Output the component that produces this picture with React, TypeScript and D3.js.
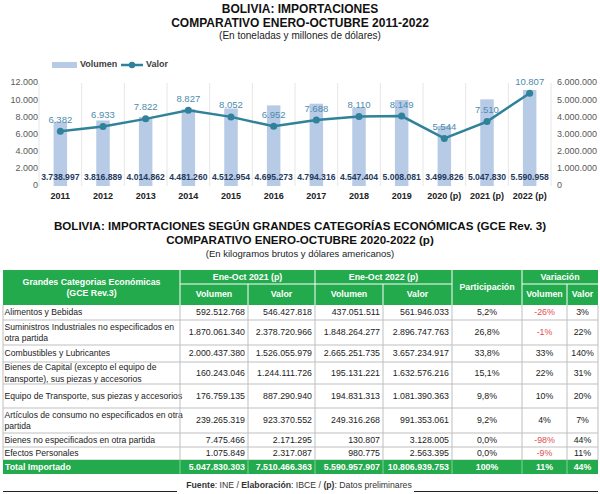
import React from "react";
import * as d3 from "d3";

const years = ["2011", "2012", "2013", "2014", "2015", "2016", "2017", "2018", "2019", "2020 (p)", "2021 (p)", "2022 (p)"];
const volumen = [3738997, 3816889, 4014862, 4481260, 4512954, 4695273, 4794316, 4547404, 5008081, 3499826, 5047830, 5590958];
const valor = [6382, 6933, 7822, 8827, 8052, 6952, 7688, 8110, 8149, 5544, 7510, 10807];
const leftTicks = [0, 2000, 4000, 6000, 8000, 10000, 12000];
const rightTicks = [0, 1000000, 2000000, 3000000, 4000000, 5000000, 6000000];

const categorias = [
  ["Alimentos y Bebidas"],
  ["Suministros Industriales no especificados en", "otra partida"],
  ["Combustibles y Lubricantes"],
  ["Bienes de Capital (excepto el equipo de", "transporte), sus piezas y accesorios"],
  ["Equipo de Transporte, sus piezas y accesorios"],
  ["Artículos de consumo no especificados en otra", "partida"],
  ["Bienes no especificados en otra partida"],
  ["Efectos Personales"],
];
const vol2021 = [592512768, 1870061340, 2000437380, 160243046, 176759135, 239265319, 7475466, 1075849];
const val2021 = [546427818, 2378720966, 1526055979, 1244111726, 887290940, 923370552, 2171295, 2317087];
const vol2022 = [437051511, 1848264277, 2665251735, 195131221, 194831313, 249316268, 130807, 980775];
const val2022 = [561946033, 2896747763, 3657234917, 1632576216, 1081390363, 991353061, 3128005, 2563395];
const participacion = [5.2, 26.8, 33.8, 15.1, 9.8, 9.2, 0.0, 0.0];
const varVolumen = [-26, -1, 33, 22, 10, 4, -98, -9];
const varValor = [3, 22, 140, 31, 20, 7, 44, 11];
const totalLabel = "Total Importado";
const totales = [5047830303, 7510466363, 5590957907, 10806939753];
const totalParticipacion = "100%";
const totalVarVolumen = 11;
const totalVarValor = 44;

const locale = d3.formatLocale({ decimal: ",", thousands: ".", grouping: [3], currency: ["", ""] });
const fmtInt = locale.format(",.0f");
const fmt1 = locale.format(".1f");

const FONT = "'Liberation Sans', Arial, sans-serif";
const GREEN = "#22aa4c";
const BAR = "#b7cae6";
const LINE = "#2f8299";
const LABEL = "#4c8cad";
const NAVY = "#1f3a60";
const GRID = "#bfbfbf";
const RED = "#e24c4c";

export default function App() {
  // ---- chart ----
  const x = d3.scaleBand<string>().domain(years).range([39, 551]).padding(0);
  const yL = d3.scaleLinear().domain([0, 12000]).range([186, 83]);
  const yR = d3.scaleLinear().domain([0, 6000000]).range([186, 83]);
  const cx = (y: string) => (x(y) as number) + x.bandwidth() / 2;
  const barW = 13.5;
  const linePath = d3
    .line<number>()
    .x((_, i) => cx(years[i]))
    .y((v) => yL(v))(valor) as string;

  // ---- table ----
  const colX = [3, 180, 248, 315, 383, 452, 522, 567, 598];
  const hTop = 270, hMid = 284, hBot = 305;
  const rowY = [305, 320, 345, 362, 384, 408, 433, 447, 460, 474];
  const fs = 8.8;
  const fsCat = 8.6;

  const cellRight = (ci: number, y: number, txt: string, color = "#222", bold = false) => (
    <text x={colX[ci + 1] - 3} y={y} textAnchor="end" fontSize={fs} fill={color} fontWeight={bold ? "bold" : "normal"} dominantBaseline="middle">
      {txt}
    </text>
  );
  const cellCenter = (ci: number, y: number, txt: string, color = "#222", bold = false) => (
    <text x={(colX[ci] + colX[ci + 1]) / 2} y={y} textAnchor="middle" fontSize={fs} fill={color} fontWeight={bold ? "bold" : "normal"} dominantBaseline="middle">
      {txt}
    </text>
  );

  return (
    <svg width={600} height={494} style={{ position: "absolute", left: 0, top: 0, background: "#fff" }} fontFamily={FONT}>
      <rect x={0} y={0} width={600} height={494} fill="#fff" />
      {/* Titles */}
      <text x={300} y={13} textAnchor="middle" fontSize={12} fontWeight="bold" fill="#111">BOLIVIA: IMPORTACIONES</text>
      <text x={300} y={27} textAnchor="middle" fontSize={12} fontWeight="bold" fill="#111">COMPARATIVO ENERO-OCTUBRE 2011-2022</text>
      <text x={300} y={39} textAnchor="middle" fontSize={10} fill="#222">(En toneladas y millones de dólares)</text>

      {/* Legend */}
      <rect x={52} y={62} width={25} height={6} fill={BAR} />
      <text x={80} y={65} dominantBaseline="middle" fontSize={9} fontWeight="bold" fill="#404040">Volumen</text>
      <line x1={121} x2={143} y1={65} y2={65} stroke={LINE} strokeWidth={2.5} />
      <circle cx={132} cy={65} r={3.2} fill={LINE} />
      <text x={146} y={65} dominantBaseline="middle" fontSize={9} fontWeight="bold" fill="#404040">Valor</text>

      {/* vertical gridlines */}
      {years.map((yv) => (
        <line key={"g" + yv} x1={x(yv) as number} x2={x(yv) as number} y1={83} y2={186} stroke="#e6e6e6" strokeWidth={1} />
      ))}
      <line x1={551} x2={551} y1={83} y2={186} stroke="#e6e6e6" strokeWidth={1} />

      {/* bars */}
      {years.map((yv, i) => (
        <rect key={"b" + yv} x={cx(yv) - barW / 2} y={yR(volumen[i])} width={barW} height={186 - yR(volumen[i])} fill={BAR} />
      ))}

      {/* axes labels */}
      {leftTicks.map((t) => (
        <text key={"l" + t} x={38} y={yL(t)} textAnchor="end" dominantBaseline="middle" fontSize={9} fill="#595959">{fmtInt(t)}</text>
      ))}
      {rightTicks.map((t) => (
        <text key={"r" + t} x={557} y={yR(t)} textAnchor="start" dominantBaseline="middle" fontSize={9} fill="#595959">{fmtInt(t)}</text>
      ))}

      {/* line */}
      <path d={linePath} fill="none" stroke={LINE} strokeWidth={2.5} />
      {years.map((yv, i) => (
        <circle key={"c" + yv} cx={cx(yv)} cy={yL(valor[i])} r={3.5} fill={LINE} />
      ))}
      {years.map((yv, i) => (
        <text key={"vl" + yv} x={cx(yv)} y={yL(valor[i]) - 11} textAnchor="middle" dominantBaseline="middle" fontSize={9.5} fill={LABEL}>{fmtInt(valor[i])}</text>
      ))}
      {years.map((yv, i) => (
        <text key={"vo" + yv} x={cx(yv)} y={178} textAnchor="middle" dominantBaseline="middle" fontSize={8.6} fontWeight="bold" fill={NAVY}>{fmtInt(volumen[i])}</text>
      ))}
      {years.map((yv) => (
        <text key={"x" + yv} x={cx(yv)} y={197} textAnchor="middle" dominantBaseline="middle" fontSize={9} fontWeight="bold" fill="#222">{yv}</text>
      ))}

      {/* Section 2 titles */}
      <text x={300} y={230} textAnchor="middle" fontSize={11.6} fontWeight="bold" fill="#111">BOLIVIA: IMPORTACIONES SEGÚN GRANDES CATEGORÍAS ECONÓMICAS (GCE Rev. 3)</text>
      <text x={300} y={244} textAnchor="middle" fontSize={11.6} fontWeight="bold" fill="#111">COMPARATIVO ENERO-OCTUBRE 2020-2022 (p)</text>
      <text x={300} y={257} textAnchor="middle" fontSize={9.5} fill="#222">(En kilogramos brutos y dólares americanos)</text>

      {/* Table header */}
      <rect x={colX[0]} y={hTop} width={colX[8] - colX[0]} height={hBot - hTop} fill={GREEN} />
      {colX.slice(1, 8).map((cxv, i) => (
        <line key={"hv" + i} x1={cxv} x2={cxv} y1={i === 1 || i === 3 || i === 6 ? hMid : hTop} y2={hBot} stroke="#fff" strokeWidth={1} />
      ))}
      <line x1={colX[1]} x2={colX[5]} y1={hMid} y2={hMid} stroke="#fff" />
      <line x1={colX[6]} x2={colX[8]} y1={hMid} y2={hMid} stroke="#fff" />
      <g fill="#fff" fontWeight="bold" fontSize={fs}>
        <text x={(colX[0] + colX[1]) / 2} y={283} textAnchor="middle" dominantBaseline="middle">Grandes Categorias Económicas</text>
        <text x={(colX[0] + colX[1]) / 2} y={294} textAnchor="middle" dominantBaseline="middle">(GCE Rev.3)</text>
        <text x={(colX[1] + colX[3]) / 2} y={277.5} textAnchor="middle" dominantBaseline="middle">Ene-Oct 2021 (p)</text>
        <text x={(colX[3] + colX[5]) / 2} y={277.5} textAnchor="middle" dominantBaseline="middle">Ene-Oct 2022 (p)</text>
        <text x={(colX[5] + colX[6]) / 2} y={288} textAnchor="middle" dominantBaseline="middle">Participación</text>
        <text x={(colX[6] + colX[8]) / 2} y={277.5} textAnchor="middle" dominantBaseline="middle">Variación</text>
        {["Volumen", "Valor", "Volumen", "Valor"].map((t, i) => (
          <text key={"sh" + i} x={(colX[i + 1] + colX[i + 2]) / 2} y={295} textAnchor="middle" dominantBaseline="middle">{t}</text>
        ))}
        {["Volumen", "Valor"].map((t, i) => (
          <text key={"sv" + i} x={(colX[i + 6] + colX[i + 7]) / 2} y={295} textAnchor="middle" dominantBaseline="middle">{t}</text>
        ))}
      </g>

      {/* Table body */}
      {categorias.map((lines, r) => {
        const y0 = rowY[r], y1 = rowY[r + 1];
        const ym = (y0 + y1) / 2 + 0.5;
        return (
          <g key={"row" + r}>
            {lines.map((ln, li) => (
              <text key={li} x={colX[0] + 1.5} y={ym + (li - (lines.length - 1) / 2) * 11.5} dominantBaseline="middle" fontSize={fsCat} fill="#222">{ln}</text>
            ))}
            {cellRight(1, ym, fmtInt(vol2021[r]))}
            {cellRight(2, ym, fmtInt(val2021[r]))}
            {cellRight(3, ym, fmtInt(vol2022[r]))}
            {cellRight(4, ym, fmtInt(val2022[r]))}
            {cellCenter(5, ym, fmt1(participacion[r]) + "%")}
            {cellCenter(6, ym, varVolumen[r] + "%", varVolumen[r] < 0 ? RED : "#222")}
            {cellCenter(7, ym, varValor[r] + "%", varValor[r] < 0 ? RED : "#222")}
          </g>
        );
      })}
      {/* body grid */}
      {rowY.slice(1, rowY.length - 1).map((yv, i) => (
        <line key={"rh" + i} x1={colX[0]} x2={colX[8]} y1={yv} y2={yv} stroke={GRID} strokeWidth={1} />
      ))}
      {colX.map((cxv, i) => (
        <line key={"cv" + i} x1={cxv} x2={cxv} y1={hBot} y2={rowY[rowY.length - 2]} stroke={GRID} strokeWidth={1} />
      ))}

      {/* Total row */}
      <rect x={colX[0]} y={rowY[8]} width={colX[8] - colX[0]} height={rowY[9] - rowY[8]} fill={GREEN} />
      {colX.slice(1, 8).map((cxv, i) => (
        <line key={"tv" + i} x1={cxv} x2={cxv} y1={rowY[8]} y2={rowY[9]} stroke="#7fd39b" strokeWidth={1} />
      ))}
      {(() => {
        const ym = (rowY[8] + rowY[9]) / 2 + 0.5;
        return (
          <g>
            <text x={colX[0] + 2} y={ym} dominantBaseline="middle" fontSize={fs} fontWeight="bold" fill="#fff">{totalLabel}</text>
            {totales.map((t, i) => (
              <React.Fragment key={"tt" + i}>{cellRight(i + 1, ym, fmtInt(t), "#fff", true)}</React.Fragment>
            ))}
            {cellCenter(5, ym, totalParticipacion, "#fff", true)}
            {cellCenter(6, ym, totalVarVolumen + "%", "#fff", true)}
            {cellCenter(7, ym, totalVarValor + "%", "#fff", true)}
          </g>
        );
      })()}

      {/* Footer */}
      <text x={299} y={488} textAnchor="middle" fontSize={8.7} fill="#333">
        <tspan fontWeight="bold">Fuente</tspan>
        <tspan>:  INE / </tspan>
        <tspan fontWeight="bold">Elaboración</tspan>
        <tspan>: IBCE / </tspan>
        <tspan fontWeight="bold">(p)</tspan>
        <tspan>: Datos preliminares</tspan>
      </text>
      <line x1={3} x2={177} y1={491.5} y2={491.5} stroke="#222" strokeWidth={1} />
      <line x1={414} x2={598} y1={491.5} y2={491.5} stroke="#222" strokeWidth={1} />
    </svg>
  );
}
